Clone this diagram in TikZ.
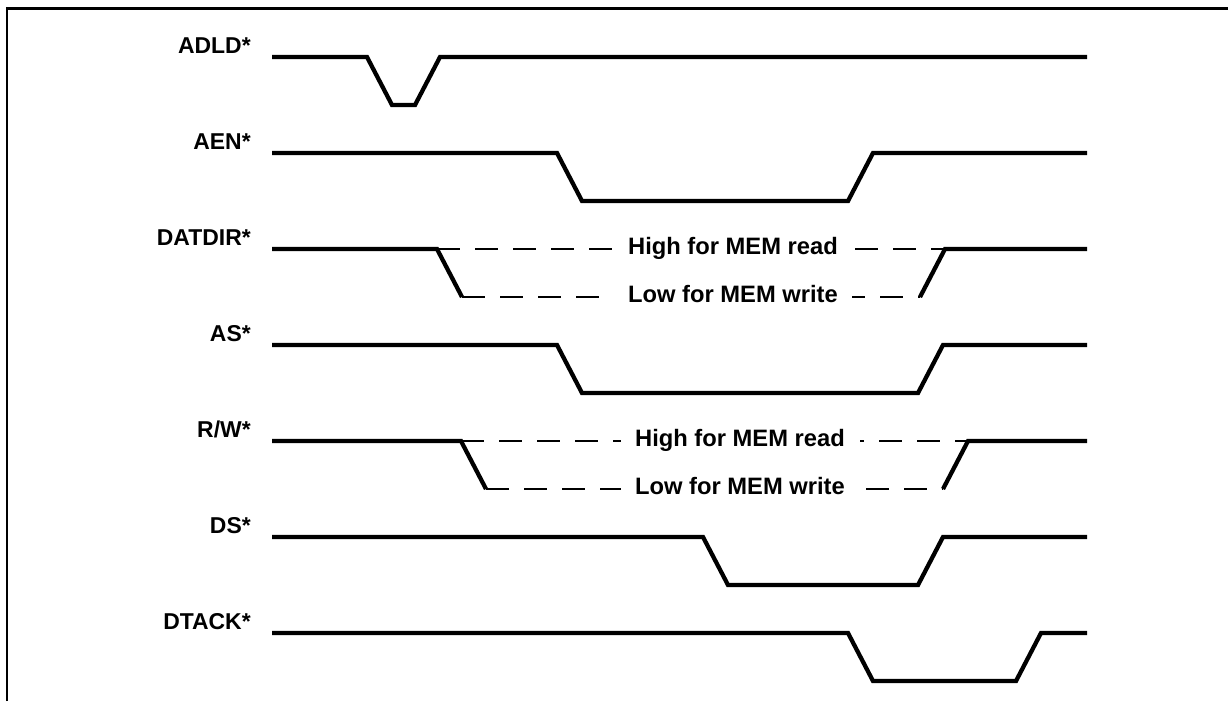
\documentclass[tikz,border=0pt]{standalone}
\usepackage{fontspec}
\setmainfont{Liberation Sans}
\begin{document}
\begin{tikzpicture}[x=0.75pt,y=-0.75pt,
  sig/.style={line width=3.2pt, line join=miter},
  frame/.style={line width=1.6pt},
  dsh/.style={line width=1.5pt, dash pattern=on 17.25pt off 11.25pt},
  lbl/.style={anchor=base east, inner sep=0pt, font=\fontsize{17.2}{19}\selectfont\bfseries},
  note/.style={fill=white, inner xsep=11pt, inner ysep=1pt, font=\fontsize{17.8}{19}\selectfont\bfseries}]
\useasboundingbox (0,0) rectangle (1228,701);
\draw[frame] (7,701) -- (7,8.5) -- (1228,8.5);
% labels
\node[lbl] (l1) at (251,53) {ADLD*};
\node[lbl] (l2) at (251,149) {AEN*};
\node[lbl] (l3) at (251,245) {DATDIR*};
\node[lbl] (l4) at (251,341) {AS*};
\node[lbl] (l5) at (251,437) {R/W*};
\node[lbl] (l6) at (251,533) {DS*};
\node[lbl] (l7) at (251,629) {DTACK*};
% ADLD*
\draw[sig] (272,57) -- (367,57) -- (392,105) -- (415,105) -- (440,57) -- (1087,57);
% AEN*
\draw[sig] (272,153) -- (557,153) -- (582,201) -- (848,201) -- (873,153) -- (1087,153);
% DATDIR*
\draw[dsh] (437,249) -- (945,249);
\draw[dsh] (462,297) -- (920,297);
\node[note] (d1) at (733,248) {High for MEM read};
\node[note] (d2) at (733,294) {Low for MEM write};
\draw[sig] (272,249) -- (437,249) -- (462,297);
\draw[sig] (920,297) -- (945,249) -- (1087,249);
% AS*
\draw[sig] (272,345) -- (557,345) -- (582,393) -- (918,393) -- (943,345) -- (1087,345);
% R/W*
\draw[dsh] (461,441) -- (968,441);
\draw[dsh] (486,489) -- (943,489);
\node[note] (r1) at (740,440) {High for MEM read};
\node[note] (r2) at (740,486) {Low for MEM write};
\draw[sig] (272,441) -- (461,441) -- (486,489);
\draw[sig] (943,489) -- (968,441) -- (1087,441);
% DS*
\draw[sig] (272,537) -- (703,537) -- (728,585) -- (918,585) -- (943,537) -- (1087,537);
% DTACK*
\draw[sig] (272,633) -- (848,633) -- (873,681) -- (1016,681) -- (1041,633) -- (1087,633);
\end{tikzpicture}
\end{document}
